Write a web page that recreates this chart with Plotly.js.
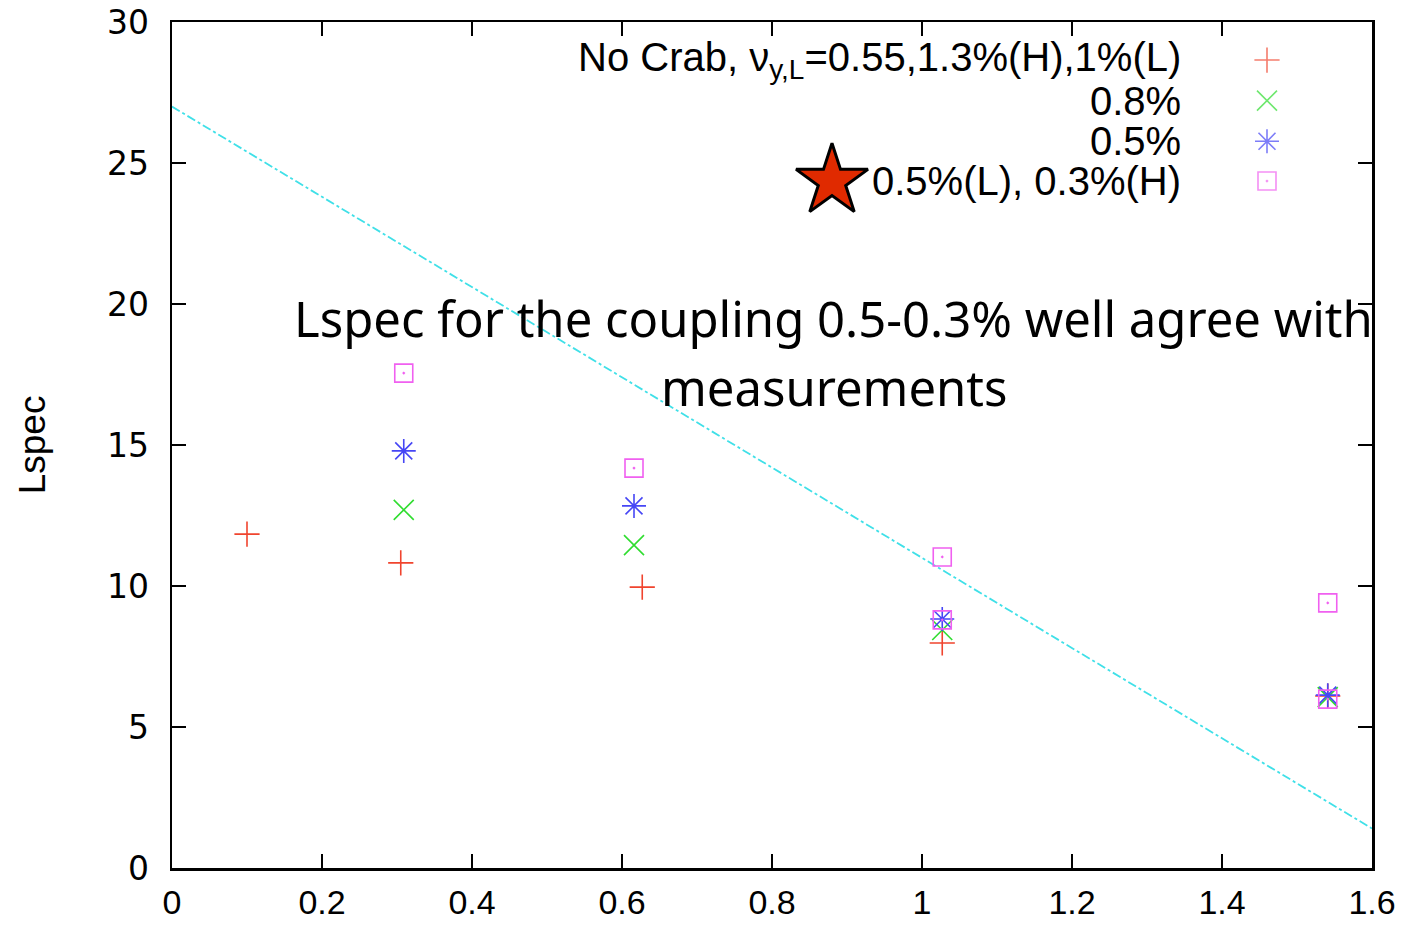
<!DOCTYPE html>
<html><head><meta charset="utf-8">
<script src="https://cdn.plot.ly/plotly-2.35.2.min.js"></script>
<style>html,body{margin:0;padding:0;background:#fff;}#chart{width:1412px;height:928px;}</style>
</head><body><div id="chart"></div>
<script>
// Data
const noCrabX = [0.10, 0.305, 0.627, 1.027, 1.541];
const noCrabY = [11.84, 10.82, 9.96, 7.98, 6.10];
const c08X = [0.309, 0.616, 1.027, 1.541];
const c08Y = [12.70, 11.45, 8.44, 6.06];
const c05X = [0.309, 0.616, 1.027, 1.541];
const c05Y = [14.79, 12.84, 8.83, 6.13];
const c0503X = [0.309, 0.616, 1.027, 1.027, 1.541, 1.541];
const c0503Y = [17.55, 14.18, 11.03, 8.80, 9.40, 5.99];
const fitX = [0, 1.6];
const fitY = [27.0, 1.4];
const legendLabels = ['No Crab, ν<sub>y,L</sub>=0.55,1.3%(H),1%(L)', '0.8%', '0.5%', '0.5%(L), 0.3%(H)'];
const xTicks = [0, 0.2, 0.4, 0.6, 0.8, 1, 1.2, 1.4, 1.6];
const xTickText = ['0', '0.2', '0.4', '0.6', '0.8', '1', '1.2', '1.4', '1.6'];
const yTicks = [0, 5, 10, 15, 20, 25, 30];
const noteLines = ['Lspec for the coupling 0.5-0.3% well agree with', 'measurements'];

const colors = ['#f0442e', '#30dd30', '#4646f5', '#f060f0'];
const symbols = ['cross-thin-open', 'x-thin-open', 'asterisk-open', 'square-open-dot'];
const sizes = [18, 20, 20, 18];

const series = [[noCrabX, noCrabY], [c08X, c08Y], [c05X, c05Y], [c0503X, c0503Y]];
const traces = [];
traces.push({x: fitX, y: fitY, mode: 'lines', line: {color: '#40e0e8', dash: 'dashdot', width: 1.8}, showlegend: false, hoverinfo: 'skip'});
series.forEach((s, i) => {
  traces.push({x: s[0], y: s[1], mode: 'markers', showlegend: false,
    marker: {symbol: symbols[i], size: sizes[i], color: colors[i], line: {color: colors[i], width: 1.6}}});
});
// legend samples on overlay axes (fractions of the plot area)
const legRowsY = [0.955, 0.907, 0.859, 0.812];
traces.push({x: [0.9125, 0.9125, 0.9125, 0.9125], y: legRowsY, xaxis: 'x2', yaxis: 'y2', mode: 'markers', showlegend: false,
  marker: {symbol: symbols, size: sizes, color: colors, line: {color: colors, width: 1.6}}});
// star decoration
traces.push({x: [0.55], y: [0.812], xaxis: 'x2', yaxis: 'y2', mode: 'markers', showlegend: false,
  marker: {symbol: 'star', size: 54, color: '#e02a00', line: {color: '#000', width: 3}}});

const annotations = legendLabels.map((t, i) => ({
  text: t, xref: 'paper', yref: 'paper', x: 0.8425, y: legRowsY[i], xanchor: 'right', yanchor: 'middle',
  showarrow: false, font: {family: 'Liberation Sans, Arial', size: 40, color: '#000'}
}));
const noteY = [19.5, 17.06];
noteLines.forEach((t, i) => annotations.push({text: t, xref: 'x', yref: 'y', x: 0.882, y: noteY[i], xanchor: 'center', yanchor: 'middle',
  showarrow: false, font: {family: 'Noto Sans, Open Sans', size: 49, color: '#000'}}));

const layout = {
  width: 1412, height: 928,
  margin: {l: 172, r: 40, t: 22, b: 60},
  paper_bgcolor: '#fff', plot_bgcolor: '#fff',
  showlegend: false,
  xaxis: {range: [0, 1.6], tickvals: xTicks, ticktext: xTickText, ticks: 'inside', ticklen: 14, tickwidth: 1.5, tickcolor: '#000',
    showline: true, linewidth: 2.5, linecolor: '#000', mirror: 'allticks', showgrid: false, zeroline: false,
    ticklabelstandoff: 3,
    tickfont: {family: 'Liberation Sans, Arial', size: 34, color: '#000'}},
  yaxis: {range: [0, 30], tickvals: yTicks, ticks: 'inside', ticklen: 14, tickwidth: 1.5, tickcolor: '#000',
    showline: true, linewidth: 2.5, linecolor: '#000', mirror: 'allticks', showgrid: false, zeroline: false,
    ticklabelstandoff: 14,
    tickfont: {family: 'DejaVu Sans, Arial', size: 33, color: '#000'},
    title: {text: 'Lspec', font: {family: 'Liberation Sans, Arial', size: 37, color: '#000'}, standoff: 50}},
  xaxis2: {range: [0, 1], overlaying: 'x', visible: false, fixedrange: true},
  yaxis2: {range: [0, 1], overlaying: 'y', visible: false, fixedrange: true},
  annotations: annotations
};
Plotly.newPlot('chart', traces, layout, {staticPlot: true});
</script></body></html>
